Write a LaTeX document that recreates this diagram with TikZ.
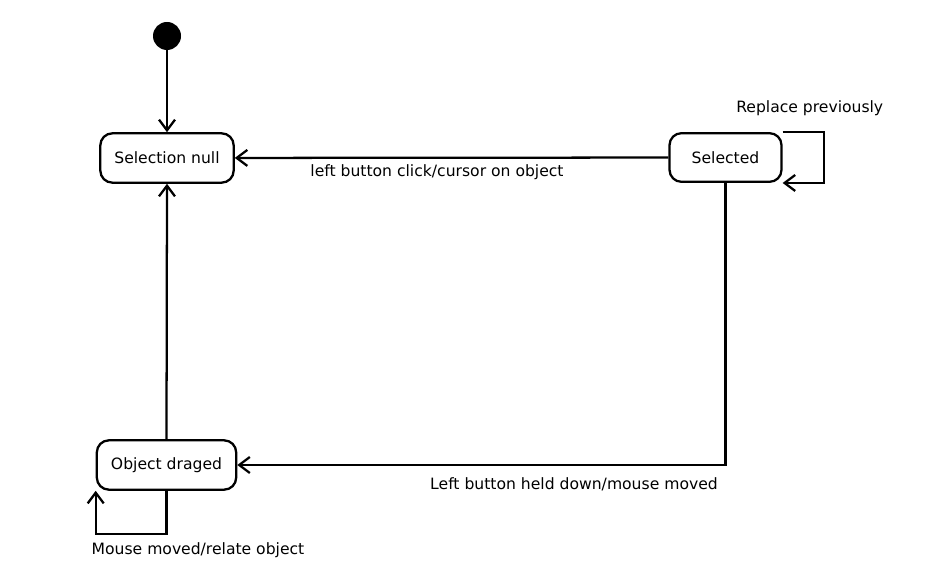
\documentclass[tikz,border=0pt]{standalone}
\usepackage{fontspec}
\setmainfont{DejaVu Sans}
\usetikzlibrary{arrows.meta}
\tikzset{
    State/.style = {draw,rounded corners=9pt,line width=1.7pt,inner sep=0pt,
        font=\fontsize{11.7}{14}\selectfont},
    Initial/.style = {fill,circle,inner sep=0pt,minimum size=21pt},
    Trans/.style = {line width=1.7pt,-{Straight Barb[length=8pt,width=12pt]}},
    Label/.style = {font=\fontsize{11.7}{14}\selectfont,inner sep=0pt}
}

\begin{document}
\begin{tikzpicture}[x=0.75pt,y=-0.75pt]
        \useasboundingbox (0,0) rectangle (945,580);
        \node[Initial] (init) at (167,36) {};
        \node[State,minimum width=100pt,minimum height=37pt] (null) at (167,158) {Selection null};
        \node[State,minimum width=84pt,minimum height=36.5pt] (sel) at (725.5,157.5) {Selected};
        \node[State,minimum width=104.5pt,minimum height=37pt] (drag) at (166.5,465) {Object draged};
        % transitions
        \draw[Trans] (init) -- (null);
        \draw[Trans] (sel) -- (null);
        \draw[Trans] (sel.south) |- (drag.east);
        \draw[Trans] (drag.north) -- (null.south);
        \draw[Trans] (sel.north east) -- ++(41,0) |- (sel.south east);
        \draw[Trans] (drag.south) -- ++(0,43) -| (drag.south west);
        % labels
        \node[Label] (lclick) at (437,172) {left button click/cursor on object};
        \node[Label,anchor=west] (lrepl) at (736,108) {Replace previously};
        \node[Label] (lheld) at (574,484) {Left button held down/mouse moved};
        \node[Label] (lmove) at (198,550) {Mouse moved/relate object};
\end{tikzpicture}
\end{document}
